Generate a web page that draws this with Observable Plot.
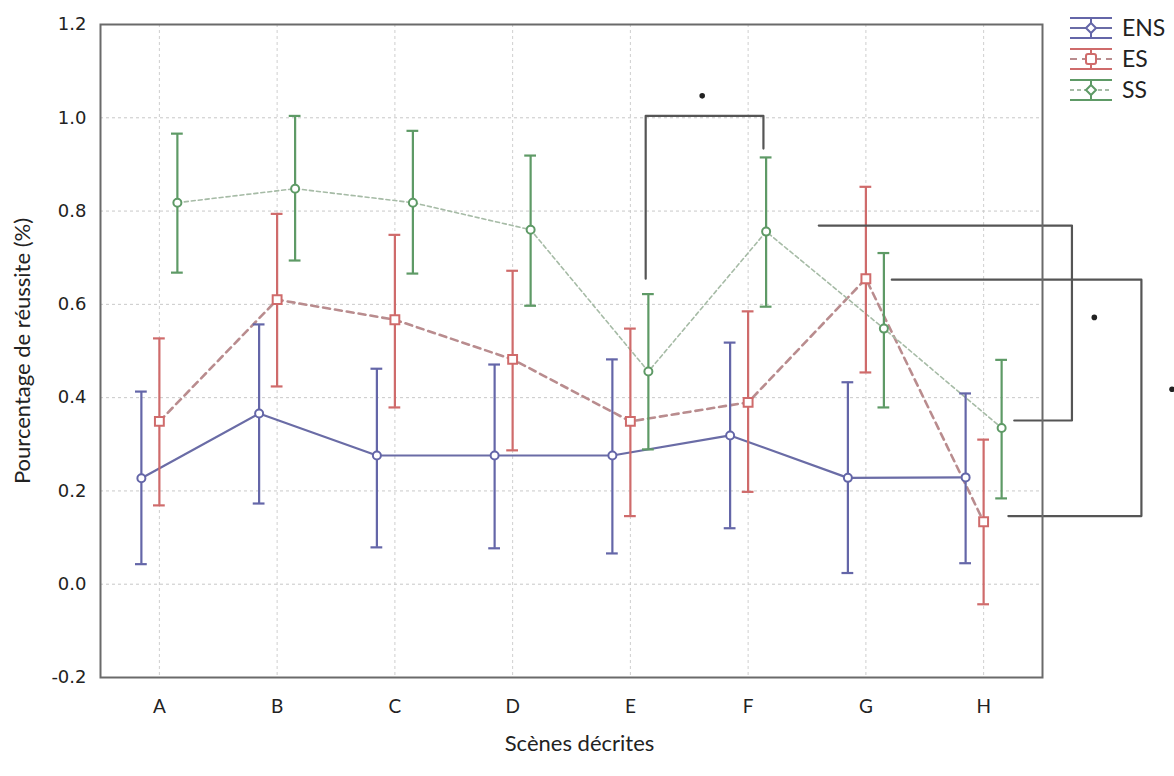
<!DOCTYPE html>
<html><head><meta charset="utf-8">
<script src="https://cdn.jsdelivr.net/npm/d3@7"></script>
<script src="https://cdn.jsdelivr.net/npm/@observablehq/plot@0.6"></script>
<style>
body{margin:0;background:#fff;}
#wrap{position:relative;width:1174px;height:776px;}
#legend{position:absolute;left:1066px;top:10px;}
</style></head><body><div id="wrap"></div>
<script>
const scenes = ["A","B","C","D","E","F","G","H"];
const groups = ["ENS","ES","SS"];
const ensMean = [0.227,0.366,0.276,0.276,0.276,0.319,0.228,0.229];
const ensLo   = [0.043,0.173,0.079,0.077,0.066,0.120,0.024,0.045];
const ensHi   = [0.413,0.557,0.462,0.471,0.482,0.518,0.433,0.409];
const esMean  = [0.349,0.610,0.567,0.482,0.349,0.390,0.655,0.134];
const esLo    = [0.169,0.424,0.379,0.287,0.146,0.198,0.454,-0.043];
const esHi    = [0.527,0.794,0.749,0.672,0.548,0.585,0.852,0.310];
const ssMean  = [0.818,0.848,0.818,0.760,0.456,0.756,0.548,0.335];
const ssLo    = [0.668,0.694,0.666,0.597,0.289,0.595,0.379,0.184];
const ssHi    = [0.966,1.004,0.972,0.919,0.622,0.915,0.710,0.481];
const yTicks  = [-0.2,0.0,0.2,0.4,0.6,0.8,1.0,1.2];
const yTitle  = "Pourcentage de réussite (%)";
const xTitle  = "Scènes décrites";
// significance brackets (scene-index units, value units)
const bracket1X = [4.13,4.13,5.13,5.13];
const bracket1Y = [0.655,1.004,1.004,0.934];
const bracket2X = [5.60,7.75,7.75,7.26];
const bracket2Y = [0.769,0.769,0.351,0.351];
const bracket3X = [6.22,8.34,8.34,7.21];
const bracket3Y = [0.653,0.653,0.146,0.146];
const starX = [4.61,7.94,8.60];
const starY = [1.047,0.572,0.418];

const series = {
  ENS:{mean:ensMean,lo:ensLo,hi:ensHi,color:"#6466a8",line:"#6a6ca6",lw:2.2,dash:null,dx:-18,symbol:"circle",r:4},
  ES:{mean:esMean,lo:esLo,hi:esHi,color:"#cf6b6b",line:"#b98c8e",lw:2.6,dash:"7,5",dx:0,symbol:"square",r:5},
  SS:{mean:ssMean,lo:ssLo,hi:ssHi,color:"#5e9a66",line:"#a6bba6",lw:1.6,dash:"4,3",dx:18,symbol:"circle",r:4}
};
const table = g => scenes.map((s,i)=>({scene:s,i,mean:series[g].mean[i],lo:series[g].lo[i],hi:series[g].hi[i]}));
const pts = (xs,ys) => xs.map((x,k)=>({x,y:ys[k]}));

const marks = [
  Plot.gridY(yTicks,{stroke:"#c2c2c2",strokeOpacity:0.9,strokeDasharray:"3,3"}),
  Plot.gridX(d3.range(scenes.length),{stroke:"#cacaca",strokeOpacity:0.9,strokeDasharray:"3,3"}),
  Plot.axisY(yTicks,{tickFormat:d=>d.toFixed(1),tickSize:0,tickPadding:14,fontSize:18,fontFamily:"DejaVu Sans",label:null}),
  Plot.axisX(d3.range(scenes.length),{tickFormat:i=>scenes[i],tickSize:0,tickPadding:22,fontSize:19,label:null}),
  Plot.text([yTitle],{text:d=>d,frameAnchor:"left",textAnchor:"middle",dx:-78,rotate:-90,fontSize:22,fill:"#222"}),
  Plot.text([xTitle],{text:d=>d,frameAnchor:"bottom",textAnchor:"middle",dx:8,dy:73,fontSize:22,fill:"#222"}),
];
for (const g of groups) {
  const s = series[g], d = table(g);
  marks.push(Plot.line(d,{x:"i",y:"mean",dx:s.dx,stroke:s.line,strokeWidth:s.lw,strokeDasharray:s.dash}));
}
for (const g of groups) {
  const s = series[g], d = table(g);
  marks.push(
    Plot.ruleX(d,{x:"i",y1:"lo",y2:"hi",dx:s.dx,stroke:s.color,strokeWidth:2.2}),
    Plot.ruleY(d,{y:"lo",x1:r=>r.i-0.05,x2:r=>r.i+0.05,dx:s.dx,stroke:s.color,strokeWidth:2.2}),
    Plot.ruleY(d,{y:"hi",x1:r=>r.i-0.05,x2:r=>r.i+0.05,dx:s.dx,stroke:s.color,strokeWidth:2.2}),
    Plot.dot(d,{x:"i",y:"mean",dx:s.dx,symbol:s.symbol,r:s.r,fill:"white",stroke:s.color,strokeWidth:2})
  );
}
for (const [bx,by] of [[bracket1X,bracket1Y],[bracket2X,bracket2Y],[bracket3X,bracket3Y]]) {
  marks.push(Plot.line(pts(bx,by),{x:"x",y:"y",stroke:"#555",strokeWidth:2.2,strokeLinejoin:"round"}));
}
marks.push(Plot.dot(pts(starX,starY),{x:"x",y:"y",r:2.8,fill:"#222"}));
marks.push(Plot.frame({stroke:"#6a6a6a",strokeWidth:2}));

const chart = Plot.plot({
  width:1174, height:776,
  marginLeft:100, marginRight:132, marginTop:24, marginBottom:99,
  style:{fontFamily:"Lato, 'Open Sans', sans-serif",fontSize:"17px",color:"#222",background:"white",overflow:"visible"},
  x:{type:"linear",domain:[-0.5,scenes.length-0.5],axis:null},
  y:{domain:[-0.2,1.2],axis:null},
  marks
});
const wrap = document.getElementById("wrap");
wrap.appendChild(chart);

// legend (top right)
const leg = d3.select(wrap).append("div").attr("id","legend");
const svg = leg.append("svg").attr("width",108).attr("height",100);
groups.forEach((g,k)=>{
  const s = series[g], cy = 18 + k*31, gg = svg.append("g");
  gg.append("line").attr("x1",4).attr("x2",46).attr("y1",cy-10).attr("y2",cy-10).attr("stroke",s.color).attr("stroke-width",2);
  gg.append("line").attr("x1",4).attr("x2",46).attr("y1",cy+10).attr("y2",cy+10).attr("stroke",s.color).attr("stroke-width",2);
  gg.append("line").attr("x1",25).attr("x2",25).attr("y1",cy-10).attr("y2",cy+10).attr("stroke",s.color).attr("stroke-width",2);
  gg.append("line").attr("x1",4).attr("x2",46).attr("y1",cy).attr("y2",cy).attr("stroke",s.line).attr("stroke-width",1.8).attr("stroke-dasharray",s.dash);
  if (g==="ES") gg.append("rect").attr("x",20).attr("y",cy-5).attr("width",10).attr("height",10).attr("rx",2).attr("fill","white").attr("stroke",s.color).attr("stroke-width",2);
  else gg.append("path").attr("d",`M25,${cy-5}L30,${cy}L25,${cy+5}L20,${cy}Z`).attr("fill","white").attr("stroke",s.color).attr("stroke-width",2);
  gg.append("text").attr("x",56).attr("y",cy).attr("dy","0.35em").attr("font-family","Lato, sans-serif").attr("font-size",23).attr("fill","#222").text(g);
});
</script></body></html>
